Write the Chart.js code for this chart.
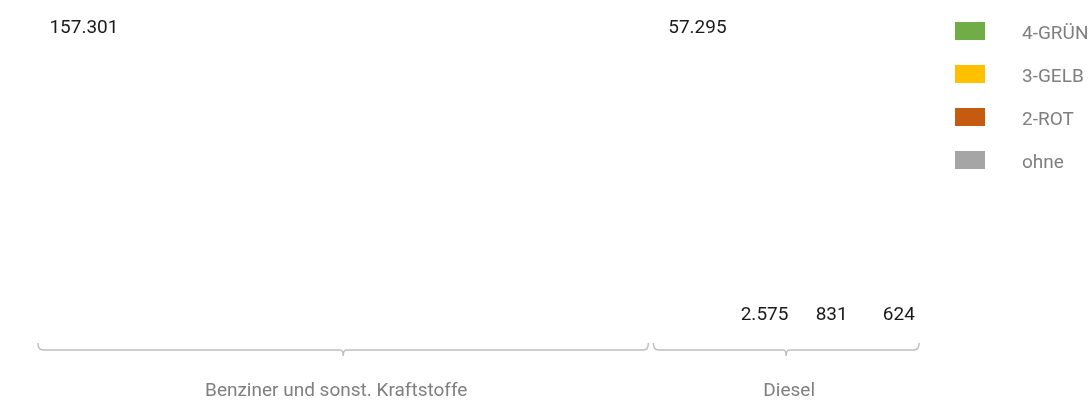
<!DOCTYPE html>
<html>
<head>
<meta charset="utf-8">
<script src="https://cdn.jsdelivr.net/npm/chart.js@4.4.1/dist/chart.umd.min.js"></script>
<style>
  body { margin: 0; background: #fff; }
  #wrap { width: 1091px; height: 403px; }
</style>
</head>
<body>
<div id="wrap"><canvas id="myChart"></canvas></div>
<script>
// Plakettenklassen (Legende)
const classes = ['4-GRÜN', '3-GELB', '2-ROT', 'ohne'];
const classColors = ['#70ad47', '#ffc000', '#c55a11', '#a5a5a5'];

// Kraftstoffgruppen
const groups = ['Benziner und sonst. Kraftstoffe', 'Diesel'];

// Werte je Klasse
const benziner = [157301, null, null, null];
const diesel = [57295, 2575, 831, 624];

const fmt = v => v.toLocaleString('de-DE');

// draws the value labels over the (invisible) bars
const valueLabels = {
    id: 'valueLabels',
    afterDatasetsDraw(chart) {
        const ctx = chart.ctx;
        ctx.save();
        ctx.fillStyle = '#1a1a1a';
        ctx.font = '19px Roboto';
        ctx.textAlign = 'center';
        ctx.textBaseline = 'middle';
        chart.data.datasets.forEach((ds, i) => {
            chart.getDatasetMeta(i).data.forEach((bar, j) => {
                const v = ds.data[j];
                if (v == null) return;
                const y = Math.min(bar.y, bar.base - 16) - 12;
                ctx.fillText(fmt(v), bar.x, y);
            });
        });
        ctx.restore();
    }
};

// brace under each group + group name
const groupBraces = {
    id: 'groupBraces',
    afterDraw(chart) {
        const ctx = chart.ctx;
        const top = chart.chartArea.bottom;
        ['x', 'x2'].forEach((id, i) => {
            const sc = chart.scales[id];
            const l = sc.left + (i === 0 ? 0 : 3);
            const r = sc.right - (i === 0 ? 2 : 0);
            const mid = (l + r) / 2;
            const y = top + 7;
            ctx.save();
            ctx.strokeStyle = '#bfbfbf';
            ctx.lineWidth = 1.5;
            ctx.beginPath();
            ctx.moveTo(l, top);
            ctx.quadraticCurveTo(l, y, l + 5, y);
            ctx.lineTo(mid - 3, y);
            ctx.quadraticCurveTo(mid, y, mid, y + 6);
            ctx.quadraticCurveTo(mid, y, mid + 3, y);
            ctx.lineTo(r - 5, y);
            ctx.quadraticCurveTo(r, y, r, top);
            ctx.stroke();
            ctx.fillStyle = '#7f7f7f';
            ctx.font = '19px Roboto';
            ctx.textAlign = 'center';
            ctx.textBaseline = 'middle';
            ctx.fillText(groups[i], mid - (i === 0 ? 7 : -3), top + 48);
            ctx.restore();
        });
    }
};

// legend on the right
const sideLegend = {
    id: 'sideLegend',
    afterDraw(chart) {
        const ctx = chart.ctx;
        const x0 = chart.chartArea.right;
        ctx.save();
        ctx.font = '19px Roboto';
        ctx.textBaseline = 'middle';
        ctx.textAlign = 'left';
        classes.forEach((c, i) => {
            const y = 22 + i * 43;
            ctx.fillStyle = classColors[i];
            ctx.fillRect(x0 + 36, y, 30, 18);
            ctx.fillStyle = '#7f7f7f';
            ctx.fillText(c, x0 + 103, y + 12);
        });
        ctx.restore();
    }
};

const ctx = document.getElementById('myChart').getContext('2d');
const myChart = new Chart(ctx, {
    type: 'bar',
    data: {
        datasets: [{
            label: groups[0],
            data: benziner,
            xAxisID: 'x',
            yAxisID: 'y',
            backgroundColor: 'rgba(0,0,0,0)'
        }, {
            label: groups[1],
            data: diesel,
            xAxisID: 'x2',
            yAxisID: 'y2',
            backgroundColor: 'rgba(0,0,0,0)'
        }]
    },
    options: {
        responsive: true,
        maintainAspectRatio: false,
        animation: false,
        layout: {
            padding: { left: 38, right: 172, top: 40, bottom: 60 }
        },
        plugins: {
            legend: { display: false },
            tooltip: { enabled: false }
        },
        scales: {
            x: {
                type: 'category',
                labels: classes,
                display: false,
                stack: 'fuel',
                stackWeight: 2.28
            },
            x2: {
                type: 'category',
                labels: classes,
                display: false,
                stack: 'fuel',
                stackWeight: 1
            },
            y: {
                display: false,
                min: 0,
                max: Math.max(...benziner.filter(v => v != null))
            },
            y2: {
                display: false,
                min: 0,
                max: Math.max(...diesel)
            }
        }
    },
    plugins: [valueLabels, groupBraces, sideLegend]
});
</script>
</body>
</html>
